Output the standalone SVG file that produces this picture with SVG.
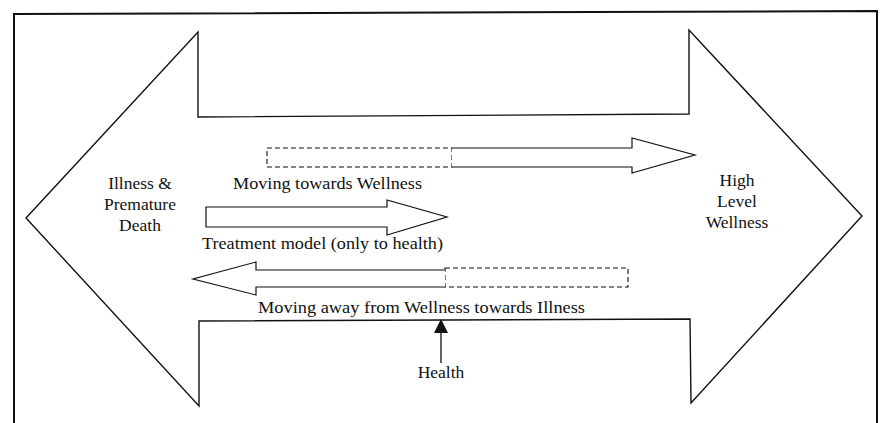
<svg xmlns="http://www.w3.org/2000/svg" width="883" height="423" viewBox="0 0 883 423">
<style>
.ln{fill:none;stroke:#111;stroke-width:1.4;stroke-linejoin:miter}
.sh{fill:#fff;stroke:#111;stroke-width:1.2}
.da{fill:none;stroke:#111;stroke-width:1.1;stroke-dasharray:5,3}
.t{font-family:"Liberation Serif","Times New Roman",serif;font-size:17.5px;fill:#111}
.c{text-anchor:middle}
</style>
<rect width="883" height="423" fill="#fff"/>
<g id="frame">
<path d="M14,430 L14,14 L877,11 L877,430" fill="none" stroke="#111" stroke-width="2"/>
</g>
<g id="big-arrow">
<path class="ln" d="M26,218 L198,32 L198,117 L689,114 L689,30 L862,216 L691,403 L690,319 L199,321 L199,406 Z"/>
</g>
<g id="illness">
<text class="t c" x="140" y="189">Illness &amp;</text>
<text class="t c" x="140" y="210">Premature</text>
<text class="t c" x="140" y="231">Death</text>
</g>
<g id="wellness">
<text class="t c" x="737" y="186">High</text>
<text class="t c" x="737" y="207">Level</text>
<text class="t c" x="737" y="228">Wellness</text>
</g>
<g id="connectors">
<g id="towards">
<rect class="da" x="267" y="148" width="185" height="19"/>
<path class="sh" d="M452,148 L632,148 L632,138 L695,155 L632,173 L632,167 L452,167"/>
<text class="t" x="233" y="189" textLength="189" lengthAdjust="spacingAndGlyphs">Moving towards Wellness</text>
</g>
<g id="treatment">
<path class="sh" d="M206,207 L387,207 L387,200 L447,217 L387,235 L387,227 L206,227 Z"/>
<text class="t" x="202" y="249" textLength="241" lengthAdjust="spacingAndGlyphs">Treatment model (only to health)</text>
</g>
<g id="away">
<rect class="da" x="445" y="268" width="183" height="19"/>
<path class="sh" d="M445,270 L256,270 L256,262 L193,279 L256,295 L256,287 L445,287"/>
<text class="t" x="258" y="313" textLength="327" lengthAdjust="spacingAndGlyphs">Moving away from Wellness towards Illness</text>
</g>
<g id="health">
<line x1="441" y1="333" x2="441" y2="363" stroke="#111" stroke-width="1.3"/>
<polygon points="441,319 434,333 448,333" fill="#111"/>
<text class="t c" x="441" y="378" font-size="18.5">Health</text>
</g>
</g>
</svg>
